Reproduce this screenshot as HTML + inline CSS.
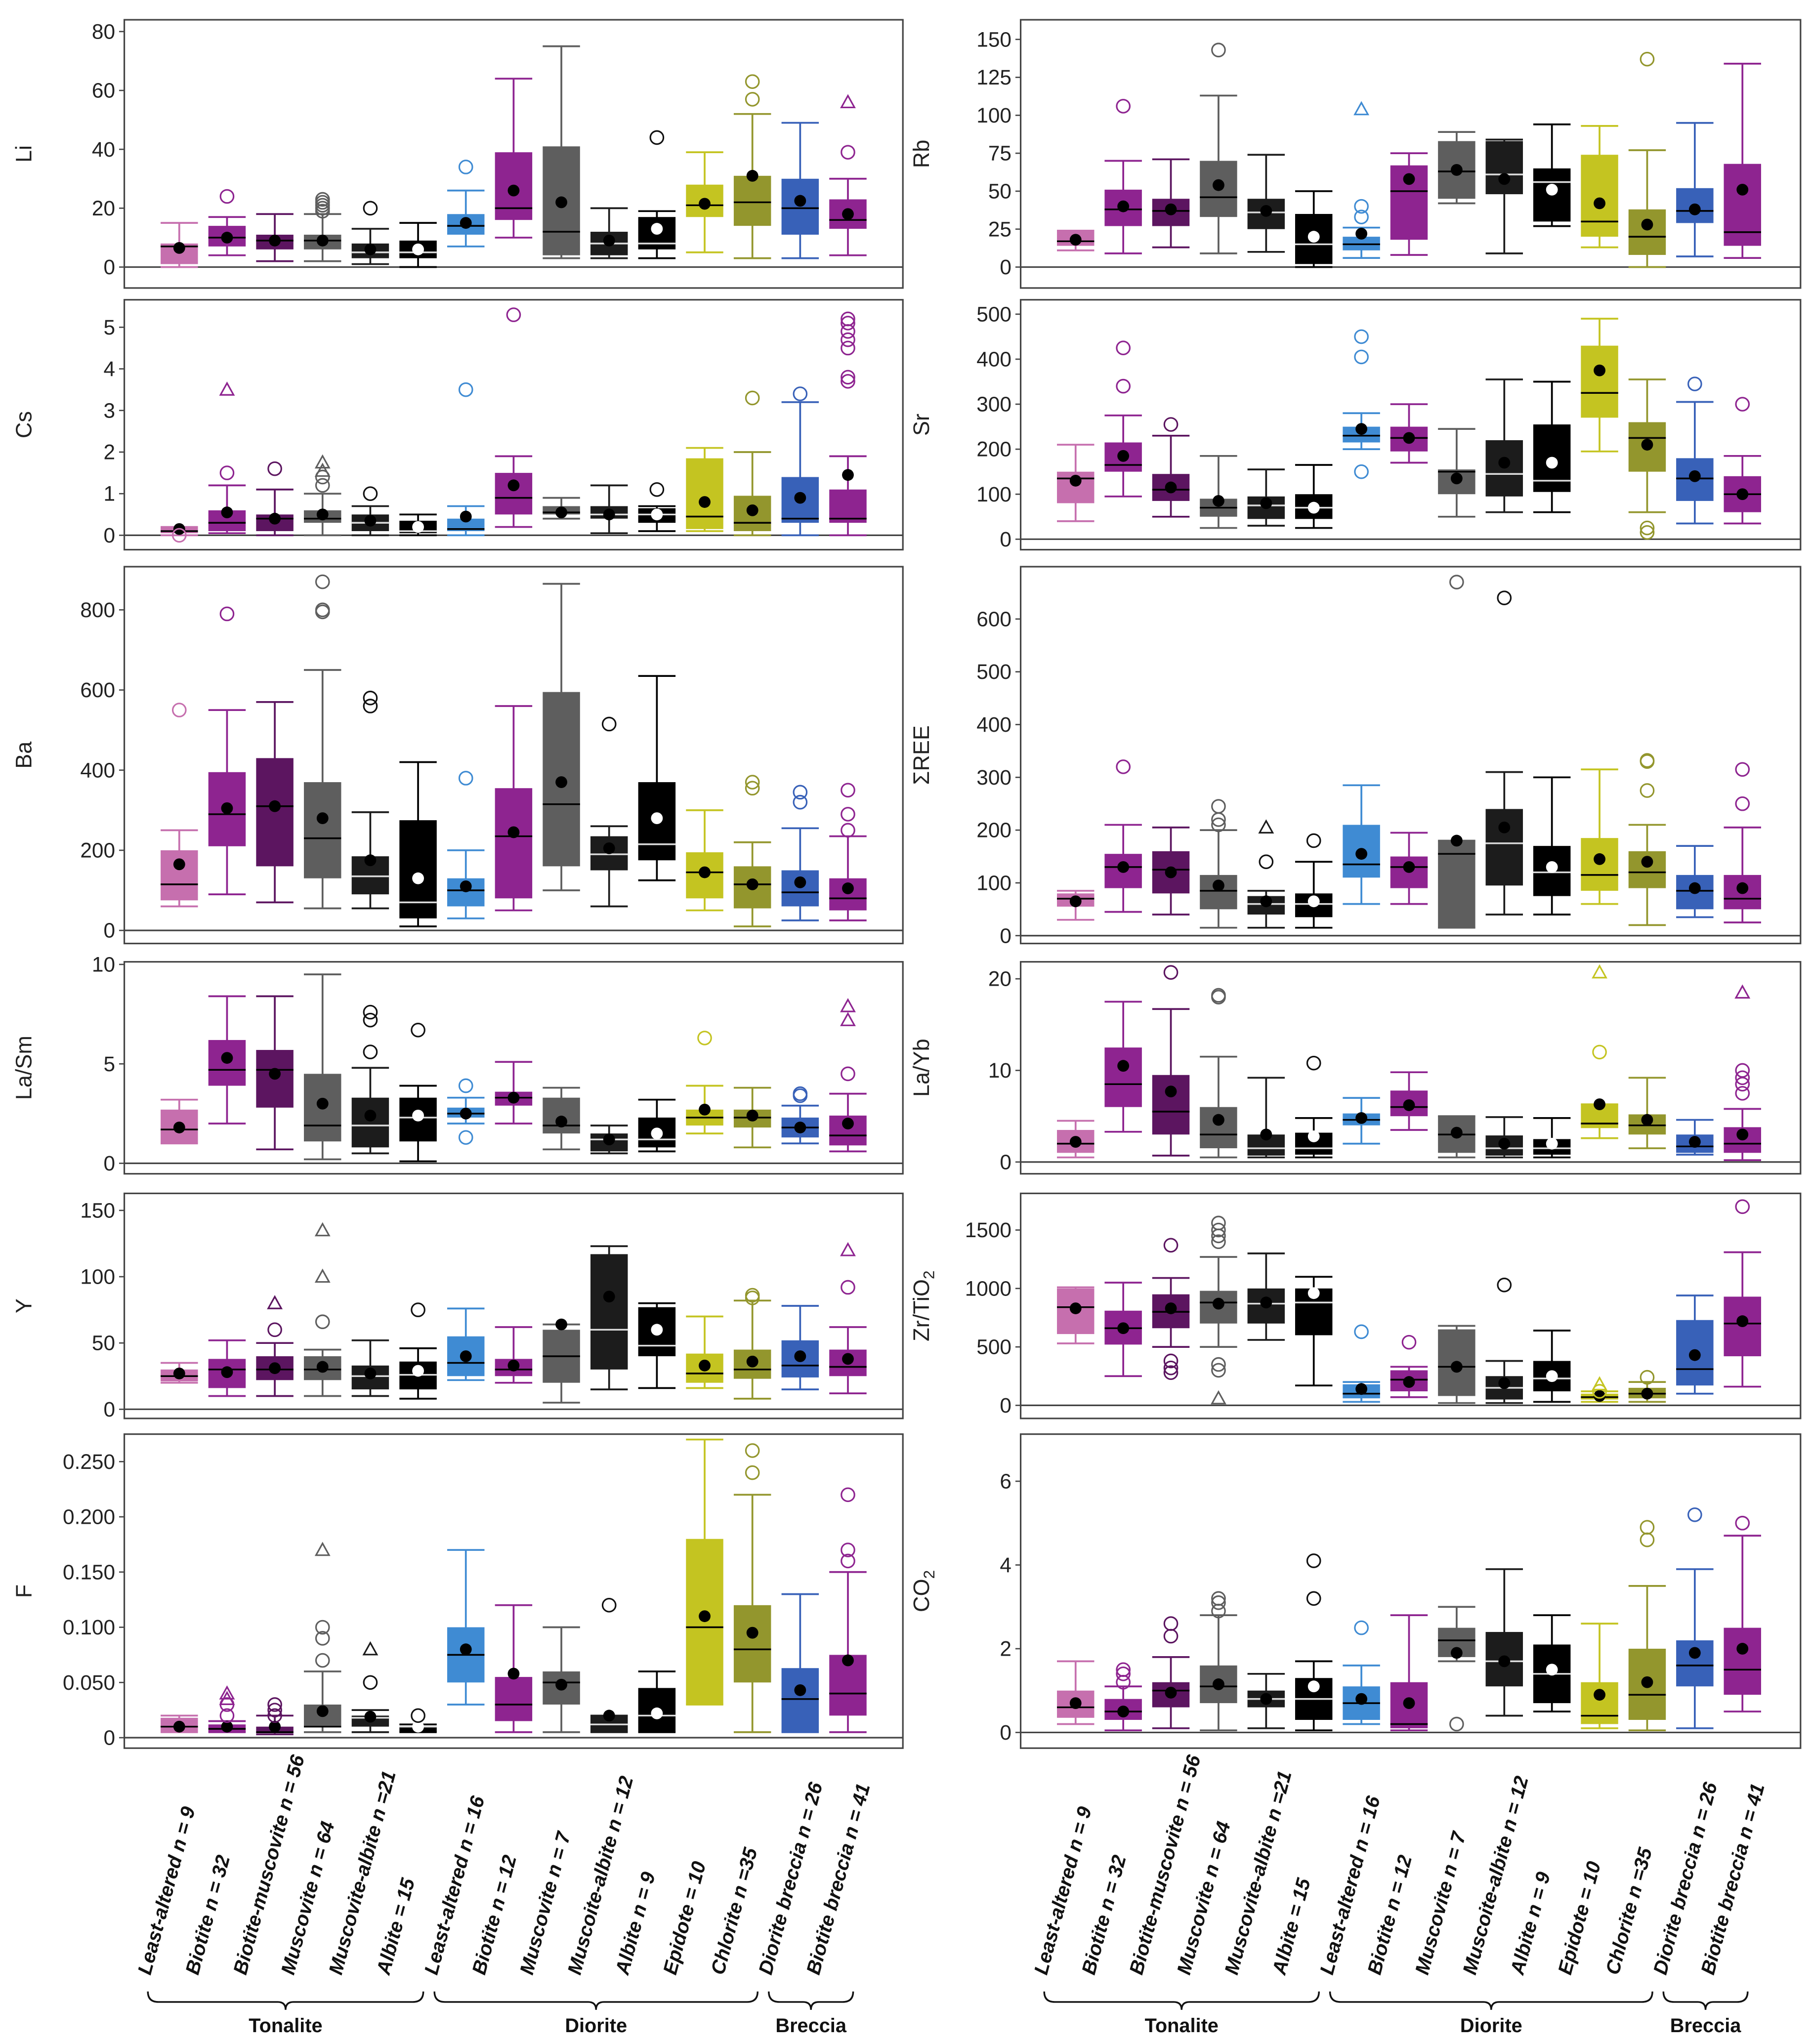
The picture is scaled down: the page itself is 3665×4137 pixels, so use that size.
<!DOCTYPE html>
<html><head><meta charset="utf-8"><style>
html,body{margin:0;padding:0;background:#fff;}
svg{display:block;}
text{font-family:"Liberation Sans",Arial,sans-serif;}
</style></head>
<body>
<svg id="chart" xmlns="http://www.w3.org/2000/svg" width="3665" height="4137" viewBox="0 0 1384 1562"></svg>
<script>
const categories = ["Least-altered n = 9","Biotite n = 32","Biotite-muscovite n = 56","Muscovite n = 64","Muscovite-albite n =21","Albite = 15","Least-altered n = 16","Biotite n = 12","Muscovite n = 7","Muscoite-albite n = 12","Albite n = 9","Epidote = 10","Chlorite n =35","Diorite breccia n = 26","Biotite breccia n = 41"];
const colors = ["#c66fae","#8e2490","#5c1560","#5e5e5e","#1c1c1c","#000000","#3f8bd3","#8e2490","#5e5e5e","#1c1c1c","#000000","#c4c421","#93962d","#3861b8","#8e2490"];
const whiteMean = [5,10];
const darkBoxes = [4,5,9,10];

// stats rows: [low whisker, q1, median, q3, high whisker, mean]
const statsLi = [[0,1,7,8,15,6.5],[4,7,10,14,17,10],[2,6,9,11,18,9],[2,6,9,11,18,9],[1,3,5,8,13,6],[0,3,5,9,15,6],[7,11,14,18,26,15],[10,16,20,39,64,26],[3,4,12,41,75,22],[3,4,8,12,20,9],[3,6,8,17,19,13],[5,17,21,28,39,21.5],[3,14,22,31,52,31],[3,11,20,30,49,22.5],[4,13,16,23,30,18]];
const outLi = [[],[24],[],[19,20,21,22,23],[20],[],[34],[],[],[],[44],[],[57,63],[],[39]];
const triLi = [[],[],[],[],[],[],[],[],[],[],[],[],[],[],[56]];

const statsRb = [[11,14,17,24,24,18],[9,27,38,51,70,40],[13,27,37,45,71,38],[9,33,46,70,113,54],[10,25,36,45,74,37],[0,2,15,35,50,20],[6,11,15,20,26,22],[8,18,50,67,75,58],[42,45,63,83,89,64],[9,48,61,83,84,58],[27,30,56,65,94,51],[13,20,30,74,93,42],[0,8,20,38,77,28],[7,29,37,52,95,38],[6,14,23,68,134,51]];
const outRb = [[],[106],[],[143],[],[],[33,40],[],[],[],[],[],[137],[],[]];
const triRb = [[],[],[],[],[],[],[104],[],[],[],[],[],[],[],[]];

const statsCs = [[0,0.05,0.1,0.2,0.2,0.15],[0.05,0.1,0.3,0.6,1.2,0.55],[0,0.1,0.4,0.5,1.1,0.4],[0,0.3,0.4,0.6,1.0,0.5],[0,0.1,0.3,0.5,0.7,0.35],[0,0.05,0.1,0.35,0.5,0.2],[0,0.1,0.15,0.4,0.7,0.45],[0.2,0.5,0.9,1.5,1.9,1.2],[0.4,0.5,0.55,0.7,0.9,0.55],[0.05,0.4,0.5,0.7,1.2,0.5],[0.1,0.3,0.5,0.65,0.7,0.5],[0.1,0.15,0.45,1.85,2.1,0.8],[0,0.1,0.3,0.95,2.0,0.6],[0,0.3,0.4,1.4,3.2,0.9],[0,0.3,0.4,1.1,1.9,1.45]];
const outCs = [[0],[1.5],[1.6],[1.2,1.4],[1.0],[],[3.5],[5.3],[],[],[1.1],[],[3.3],[3.4],[3.7,3.8,4.5,4.7,4.9,5.1,5.2]];
const triCs = [[],[3.5],[],[1.55,1.75],[],[],[],[],[],[],[],[],[],[],[]];

const statsSr = [[40,80,135,150,210,130],[95,150,165,215,275,185],[50,85,110,145,230,115],[25,50,70,90,185,85],[30,45,75,95,155,80],[25,45,70,100,165,70],[200,215,230,250,280,245],[170,195,225,250,300,225],[50,100,150,155,245,135],[60,95,145,220,355,170],[60,105,130,255,350,170],[195,270,325,430,490,375],[60,150,225,260,355,210],[35,85,135,180,305,140],[35,60,100,140,185,100]];
const outSr = [[],[340,425],[255],[],[],[],[150,405,450],[],[],[],[],[],[15,25],[345],[300]];
const triSr = [[],[],[],[],[],[],[],[],[],[],[],[],[],[],[]];

const statsBa = [[60,75,115,200,250,165],[90,210,290,395,550,305],[70,160,310,430,570,310],[55,130,230,370,650,280],[55,90,135,185,295,175],[10,30,70,275,420,130],[30,60,100,130,200,110],[50,80,235,355,560,245],[100,160,315,595,865,370],[60,150,190,235,260,205],[125,175,215,370,635,280],[50,80,145,195,300,145],[10,55,115,160,220,115],[25,60,95,150,255,120],[25,50,80,130,235,105]];
const outBa = [[550],[790],[],[795,800,870],[560,580],[],[380],[],[],[515],[],[],[355,370],[320,345],[250,290,350]];
const triBa = [[],[],[],[],[],[],[],[],[],[],[],[],[],[],[]];

const statsREE = [[30,55,70,80,85,65],[45,90,130,155,210,130],[40,80,125,160,205,120],[15,50,85,115,200,95],[15,40,60,75,85,65],[15,35,60,80,140,65],[60,110,135,210,285,155],[60,90,130,150,195,130],[15,15,155,180,180,180],[40,95,175,240,310,205],[40,75,120,170,300,130],[60,85,115,185,315,145],[20,90,120,160,210,140],[35,50,85,115,170,90],[25,50,70,115,205,90]];
const outREE = [[],[320],[],[210,220,245],[140],[180],[],[],[670],[640],[],[],[275,330,332],[],[250,315]];
const triREE = [[],[],[],[],[205],[],[],[],[],[],[],[],[],[],[]];

const statsLaSm = [[1.0,1.0,1.7,2.7,3.2,1.8],[2.0,3.9,4.7,6.2,8.4,5.3],[0.7,2.8,4.7,5.7,8.4,4.5],[0.2,1.1,1.9,4.5,9.5,3.0],[0.5,0.8,1.9,3.3,4.8,2.4],[0.1,1.1,2.3,3.3,3.9,2.4],[2.0,2.3,2.5,2.8,3.3,2.5],[2.0,2.9,3.3,3.6,5.1,3.3],[0.7,1.5,1.9,3.3,3.8,2.1],[0.5,0.6,1.2,1.5,1.9,1.2],[0.6,0.8,1.2,2.3,3.2,1.5],[1.5,1.9,2.3,2.7,3.9,2.7],[0.8,1.8,2.3,2.7,3.8,2.4],[1.0,1.3,1.8,2.3,2.9,1.8],[0.6,0.9,1.4,2.4,3.5,2.0]];
const outLaSm = [[],[],[],[],[5.6,7.2,7.6],[6.7],[1.3,3.9],[],[],[],[],[6.3],[],[3.4,3.5],[4.5]];
const triLaSm = [[],[],[],[],[],[],[],[],[],[],[],[],[],[],[7.2,7.9]];

const statsLaYb = [[0.5,1,2,3.5,4.5,2.2],[3.3,6,8.5,12.5,17.5,10.5],[0.7,3,5.5,9.5,16.7,7.7],[0.5,1.5,3,6,11.5,4.6],[0.5,0.7,1.5,3,9.2,3.0],[0.5,0.8,1.5,3.2,4.8,2.8],[2,4,4.6,5.3,7,4.8],[3.5,5,6,7.8,9.8,6.2],[0.5,1,3,5,5,3.2],[0.5,0.7,1.5,2.9,4.9,2.0],[0.5,0.8,1.5,2.5,4.8,2.0],[2.6,3.7,4.2,6.3,6.3,6.3],[1.5,3,4,5.2,9.2,4.6],[0.8,1,1.7,3,4.6,2.2],[0.2,1,2,3.8,5.8,3.0]];
const outLaYb = [[],[],[20.7],[18,18.2],[],[10.8],[],[],[],[],[],[12],[],[],[7.5,8.5,9.2,10]];
const triLaYb = [[],[],[],[],[],[],[],[],[],[],[],[20.7],[],[],[18.5]];

const statsY = [[20,21,25,30,35,27],[10,16,30,38,52,28],[10,22,30,40,50,31],[10,22,30,40,45,32],[10,15,25,33,52,27],[8,15,26,36,46,29],[22,25,35,55,76,40],[20,25,30,38,62,33],[5,20,40,60,64,64],[15,30,60,117,123,85],[16,40,48,77,80,60],[16,20,27,42,70,33],[8,23,30,45,82,36],[15,24,33,52,78,40],[12,25,32,45,62,38]];
const outY = [[],[],[60],[66],[],[75],[],[],[],[],[],[],[84,86],[],[92]];
const triY = [[],[],[80],[100,135],[],[],[],[],[],[],[],[],[],[],[120]];

const statsZr = [[530,610,840,1000,1010,830],[250,520,660,810,1050,660],[500,660,800,950,1090,830],[500,700,880,980,1270,870],[560,700,870,1000,1300,880],[170,600,880,1000,1100,960],[30,60,100,180,200,140],[70,120,220,300,330,200],[20,80,330,650,680,330],[20,50,150,250,380,190],[30,120,230,380,640,250],[30,50,70,100,120,80],[30,60,100,150,200,100],[100,170,310,730,940,430],[160,420,700,930,1310,720]];
const outZr = [[],[],[280,320,380,1370],[300,350,1400,1450,1500,1560],[],[],[630],[540],[],[1030],[],[120],[240],[],[1700]];
const triZr = [[],[],[],[60],[],[],[],[],[],[],[],[180],[],[],[]];

const statsF = [[0.005,0.005,0.01,0.018,0.02,0.01],[0.005,0.005,0.008,0.012,0.015,0.01],[0.003,0.004,0.005,0.01,0.02,0.01],[0.005,0.01,0.01,0.03,0.06,0.024],[0.005,0.01,0.018,0.02,0.025,0.019],[0.005,0.005,0.01,0.01,0.012,0.01],[0.03,0.05,0.075,0.1,0.17,0.08],[0.005,0.015,0.03,0.055,0.12,0.058],[0.005,0.03,0.05,0.06,0.1,0.048],[0.005,0.005,0.012,0.02,0.02,0.02],[0.005,0.005,0.02,0.045,0.06,0.022],[0.03,0.03,0.1,0.18,0.27,0.11],[0.005,0.05,0.08,0.12,0.22,0.095],[0.005,0.005,0.035,0.063,0.13,0.043],[0.005,0.02,0.04,0.075,0.15,0.07]];
const outF = [[],[0.02,0.03],[0.02,0.025,0.03],[0.07,0.09,0.1],[0.05],[0.02],[],[],[],[0.12],[],[],[0.24,0.26],[],[0.16,0.17,0.22]];
const triF = [[],[0.035,0.04],[],[0.17],[0.08],[],[],[],[],[],[],[],[],[],[]];

const statsCO2 = [[0.2,0.35,0.6,1.0,1.7,0.7],[0.05,0.3,0.5,0.8,1.1,0.5],[0.1,0.6,1.0,1.2,1.8,0.95],[0.05,0.7,1.1,1.6,2.8,1.15],[0.1,0.6,0.8,1.0,1.4,0.8],[0.05,0.3,0.8,1.3,1.7,1.1],[0.2,0.3,0.7,1.1,1.6,0.8],[0.05,0.1,0.2,1.2,2.8,0.7],[1.7,1.8,2.2,2.5,3.0,1.9],[0.4,1.1,1.7,2.4,3.9,1.7],[0.5,0.7,1.4,2.1,2.8,1.5],[0.1,0.2,0.4,1.2,2.6,0.9],[0.05,0.3,0.9,2.0,3.5,1.2],[0.1,1.1,1.6,2.2,3.9,1.9],[0.5,0.9,1.5,2.5,4.7,2.0]];
const outCO2 = [[],[1.2,1.4,1.5],[2.3,2.6],[2.9,3.1,3.2],[],[3.2,4.1],[2.5],[],[0.2],[],[],[],[4.6,4.9],[5.2],[5.0]];
const triCO2 = [[],[],[],[],[],[],[],[],[],[],[],[],[],[],[]];

const ticksLi=[0,20,40,60,80], ticksRb=[0,25,50,75,100,125,150], ticksCs=[0,1,2,3,4,5], ticksSr=[0,100,200,300,400,500];
const ticksBa=[0,200,400,600,800], ticksREE=[0,100,200,300,400,500,600], ticksLaSm=[0,5,10], ticksLaYb=[0,10,20];
const ticksY=[0,50,100,150], ticksZr=[0,500,1000,1500], ticksF=[0,0.05,0.1,0.15,0.2,0.25], ticksCO2=[0,2,4,6];

const NS="http://www.w3.org/2000/svg";
const svg=document.getElementById('chart');
function mk(tag,attrs,parent){const e=document.createElementNS(NS,tag);for(const k in attrs)e.setAttribute(k,attrs[k]);(parent||svg).appendChild(e);return e;}

const panels=[
 {name:'li',label:'Li',col:0,top:15,bot:220,y0:204,vt:80,yt:24,ticks:ticksLi,st:statsLi,out:outLi,tri:triLi,fmt:v=>String(v)},
 {name:'rb',label:'Rb',col:1,top:15,bot:220,y0:204,vt:150,yt:30,ticks:ticksRb,st:statsRb,out:outRb,tri:triRb,fmt:v=>String(v)},
 {name:'cs',label:'Cs',col:0,top:229,bot:420,y0:409,vt:5,yt:250,ticks:ticksCs,st:statsCs,out:outCs,tri:triCs,fmt:v=>String(v)},
 {name:'sr',label:'Sr',col:1,top:229,bot:420,y0:412,vt:500,yt:240,ticks:ticksSr,st:statsSr,out:outSr,tri:triSr,fmt:v=>String(v)},
 {name:'ba',label:'Ba',col:0,top:433,bot:721,y0:711,vt:800,yt:466,ticks:ticksBa,st:statsBa,out:outBa,tri:triBa,fmt:v=>String(v)},
 {name:'ree',label:'ΣREE',col:1,top:433,bot:721,y0:715,vt:600,yt:473,ticks:ticksREE,st:statsREE,out:outREE,tri:triREE,fmt:v=>String(v)},
 {name:'la-sm',label:'La/Sm',col:0,top:735,bot:897,y0:889,vt:10,yt:737,ticks:ticksLaSm,st:statsLaSm,out:outLaSm,tri:triLaSm,fmt:v=>String(v)},
 {name:'la-yb',label:'La/Yb',col:1,top:735,bot:897,y0:888,vt:20,yt:748,ticks:ticksLaYb,st:statsLaYb,out:outLaYb,tri:triLaYb,fmt:v=>String(v)},
 {name:'y',label:'Y',col:0,top:912,bot:1084,y0:1077,vt:150,yt:925,ticks:ticksY,st:statsY,out:outY,tri:triY,fmt:v=>String(v)},
 {name:'zr-tio2',label:'Zr/TiO2',col:1,top:912,bot:1084,y0:1074,vt:1500,yt:940,ticks:ticksZr,st:statsZr,out:outZr,tri:triZr,fmt:v=>String(v)},
 {name:'f',label:'F',col:0,top:1096,bot:1336,y0:1328,vt:0.25,yt:1117,ticks:ticksF,st:statsF,out:outF,tri:triF,fmt:v=>v===0?'0':v.toFixed(3)},
 {name:'co2',label:'CO2',col:1,top:1096,bot:1336,y0:1324,vt:6,yt:1132,ticks:ticksCO2,st:statsCO2,out:outCO2,tri:triCO2,fmt:v=>String(v)}
];
const colL=[95,780], colR=[690,1376], cx0=[137,822], dx=[36.5,36.4];
const BW=28.5;

panels.forEach(p=>{
  const g=mk('g',{});
  
  
  const L=colL[p.col], R=colR[p.col];
  const y=v=>p.y0-(v/p.vt)*(p.y0-p.yt);
  const x=i=>cx0[p.col]+i*dx[p.col];
  const frame=mk('rect',{x:L,y:p.top,width:R-L,height:p.bot-p.top,fill:'none',stroke:'#444','stroke-width':1.2},g);
  
  
  const zl=mk('line',{x1:L,x2:R,y1:p.y0,y2:p.y0,stroke:'#444','stroke-width':1.2},g);
  
  
  p.ticks.forEach(t=>{
    const tk=mk('line',{x1:L-4,x2:L,y1:y(t),y2:y(t),stroke:'#444','stroke-width':1},g);
    
    
    const tl=mk('text',{x:L-7,y:y(t)+5.5,'text-anchor':'end','font-size':16,fill:'#222'},g);
    tl.textContent=p.fmt(t);
    
    
  });
  const lx=p.col===0?24:710, ly=(p.top+p.bot)/2;
  const yl=mk('text',{x:lx,y:ly,'text-anchor':'middle','font-size':17,fill:'#222',transform:`rotate(-90 ${lx} ${ly})`},g);
  if(p.label==='Zr/TiO2'){yl.innerHTML='Zr/TiO<tspan font-size="12" dy="4">2</tspan>';}
  else if(p.label==='CO2'){yl.innerHTML='CO<tspan font-size="12" dy="4">2</tspan>';}
  else yl.textContent=p.label;
  
  
  p.st.forEach((s,i)=>{
    const c=colors[i], cx=x(i);
    const bg=mk('g',{},g);
    
    
    mk('line',{x1:cx,x2:cx,y1:y(s[0]),y2:y(s[4]),stroke:c,'stroke-width':1.4},bg);
    mk('line',{x1:cx-BW/2,x2:cx+BW/2,y1:y(s[0]),y2:y(s[0]),stroke:c,'stroke-width':1.4},bg);
    mk('line',{x1:cx-BW/2,x2:cx+BW/2,y1:y(s[4]),y2:y(s[4]),stroke:c,'stroke-width':1.4},bg);
    mk('rect',{x:cx-BW/2,y:y(s[3]),width:BW,height:Math.max(1,y(s[1])-y(s[3])),fill:c},bg);
    const dark=darkBoxes.includes(i);
    mk('line',{x1:cx-BW/2,x2:cx+BW/2,y1:y(s[2]),y2:y(s[2]),stroke:dark?'#ddd':'#000','stroke-width':1.3},bg);
    const m=mk('circle',{cx:cx,cy:y(s[5]),r:4.5,fill:whiteMean.includes(i)?'#fff':'#000'},bg);
    
    
    p.out[i].forEach(v=>{
      const o=mk('circle',{cx:cx,cy:y(v),r:5,fill:'none',stroke:c==='#000000'||c==='#1c1c1c'?'#111':c,'stroke-width':1.2},bg);
      
      
    });
    p.tri[i].forEach(v=>{
      const yy=y(v);
      const t=mk('polygon',{points:`${cx-5},${yy+4} ${cx+5},${yy+4} ${cx},${yy-5}`,fill:'none',stroke:c,'stroke-width':1.2},bg);
      
      
    });
  });
});

// category labels and group braces
[0,1].forEach(col=>{
  categories.forEach((name,i)=>{
    const cx=cx0[col]+i*dx[col];
    const sx=cx-22, sy=1510;
    const t=mk('text',{x:sx,y:sy,'font-size':15,'font-style':'italic','font-weight':'bold',fill:'#111',transform:`rotate(-75 ${sx} ${sy})`});
    t.textContent=name;
    
    
  });
  const groups=[['Tonalite',0,5],['Diorite',6,12],['Breccia',13,14]];
  groups.forEach(gp=>{
    const x1=cx0[col]+gp[1]*dx[col]-24, x2=cx0[col]+gp[2]*dx[col]+4;
    const m=(x1+x2)/2, y0=1522;
    const b=mk('path',{d:`M${x1},${y0} Q${x1},${y0+8} ${x1+8},${y0+8} L${m-6},${y0+8} Q${m},${y0+8} ${m},${y0+14} Q${m},${y0+8} ${m+6},${y0+8} L${x2-8},${y0+8} Q${x2},${y0+8} ${x2},${y0}`,fill:'none',stroke:'#111','stroke-width':1.3});
    
    
    const t=mk('text',{x:m,y:1553,'text-anchor':'middle','font-size':15,'font-weight':'bold',fill:'#111'});
    t.textContent=gp[0];
    
    
  });
});
</script>
</body></html>
